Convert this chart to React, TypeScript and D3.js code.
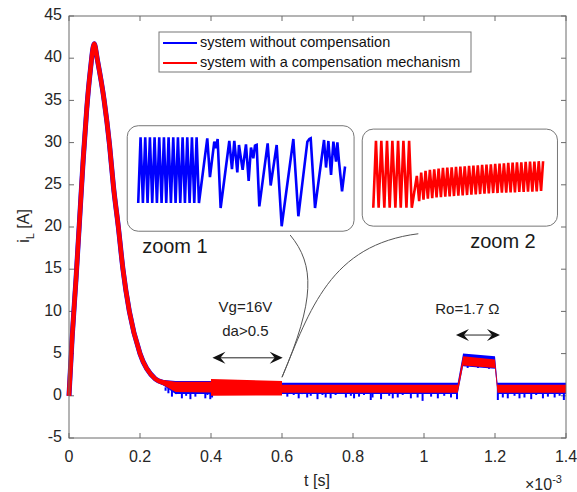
import React from 'react';
import * as d3 from 'd3';

const W = 577;
const H = 492;
const margin = { top: 16, right: 11, bottom: 54, left: 69 };

const xTicks = [0, 0.2, 0.4, 0.6, 0.8, 1, 1.2, 1.4];
const yTicks = [-5, 0, 5, 10, 15, 20, 25, 30, 35, 40, 45];

// start-up transient, shared by both systems (t in ms, i in A)
const transientT = [0, 0.009, 0.02, 0.03, 0.04, 0.05, 0.06, 0.071, 0.08, 0.099, 0.114, 0.125, 0.139, 0.152, 0.17, 0.2, 0.243, 0.27, 0.3];
const transientI = [0, 7, 14, 21, 28, 34, 38.5, 41.7, 39.8, 35, 29.8, 24.9, 20, 15, 10, 5, 2, 1.5, 1.1];

// ripple envelope after the transient
const bandT = [0.26, 0.3, 0.4, 0.4, 0.6, 0.6, 1.095, 1.11, 1.2, 1.207, 1.4];
const redHigh = [1.9, 1.65, 1.65, 2.0, 1.75, 1.3, 1.3, 4.7, 4.3, 1.3, 1.3];
const redLow = [1.4, 0.45, 0.4, 0.0, 0.05, 0.35, 0.35, 3.6, 3.3, 0.35, 0.35];
const blueHigh = [1.9, 1.75, 1.75, 1.75, 1.75, 1.55, 1.55, 5.0, 4.7, 1.55, 1.55];
const blueLow = [1.4, 0.2, 0.2, 0.2, 0.2, 0.2, 0.2, 3.5, 3.2, 0.2, 0.2];

// downward spikes of the uncompensated current
const spikeT = [0.272, 0.28, 0.29, 0.302, 0.318, 0.33, 0.342, 0.356, 0.384, 0.39, 0.398, 0.403,
  0.615, 0.633, 0.647, 0.657, 0.671, 0.681, 0.7, 0.714, 0.723, 0.737, 0.751, 0.78, 0.794, 0.803,
  0.817, 0.831, 0.85, 0.855, 0.879, 0.902, 0.912, 0.926, 0.94, 0.963, 0.982, 0.996, 1.02, 1.039, 1.057, 1.076, 1.093,
  1.208, 1.222, 1.236, 1.255, 1.269, 1.283, 1.302, 1.316, 1.335, 1.349, 1.368, 1.382, 1.394];
const spikeI = [0.6, 0.3, -0.1, 0.2, -0.3, 0.0, -0.4, -0.1, -0.3, 0.1, -0.4, -0.2,
  -0.1, 0.1, -0.3, 0.2, -0.2, 0.0, -0.4, 0.1, -0.2, -0.3, 0.1, -0.2, 0.0, -0.3,
  -0.1, 0.1, -0.5, -0.2, -0.4, 0.0, -0.3, -0.2, 0.1, -0.3, -0.2, -0.6, -0.1, -0.3, 0.0, -0.2, -0.4,
  -0.5, -0.2, -0.3, 0.0, -0.3, -0.2, -0.4, 0.1, -0.3, -0.1, -0.2, 0.0, -0.5];
const stepSpikeT = [1.123, 1.138, 1.152, 1.169, 1.183, 1.197];
const stepSpikeI = [3.3, 3.5, 3.3, 3.4, 3.2, 3.4];

// zoom 1 inset (sample index, relative level)
const zoom1X = [55, 62, 69, 76, 83, 90, 97, 104, 111, 118, 125, 132, 139, 146, 153, 160, 167, 174, 181, 188, 195, 202, 209, 216, 223, 230, 237,
  262, 270, 283, 288, 293, 302, 328, 336, 343, 352, 357, 368, 378, 386, 393, 400, 405, 410, 418, 443, 452, 470, 485,
  520, 535, 562, 568, 572, 585, 612, 618, 625, 633, 640, 648, 652, 657, 666, 675];
const zoom1Y = [85, 283, 85, 283, 85, 283, 85, 283, 85, 283, 85, 283, 85, 283, 85, 283, 85, 283, 85, 283, 85, 283, 85, 283, 85, 283, 85,
  280, 163, 270, 250, 278, 70, 272, 187, 272, 177, 260, 185, 262, 152, 252, 220, 258, 260, 75, 265, 138, 260, 15,
  278, 45, 270, 278, 280, 70, 275, 192, 272, 170, 270, 210, 268, 208, 120, 195];

// zoom 2 inset
const zoom2X = [55, 63, 71, 79, 88, 96, 104, 112, 121, 129, 137, 145, 154, 162, 170,
  185, 192, 198, 205, 211, 218, 224, 231, 237, 244, 250, 257, 263, 270, 276, 283, 289, 296, 302, 309,
  315, 322, 328, 335, 341, 348, 354, 361, 367, 374, 380, 387, 393, 400, 406, 413, 419, 426, 432, 439,
  445, 452, 458, 465, 471, 478, 484, 491, 497, 504, 510, 517, 523, 530, 536, 543, 549, 556, 562];
const zoom2Y = [55, 255, 55, 255, 55, 255, 55, 255, 55, 255, 55, 255, 55, 255, 55,
  150, 75, 160, 79, 165, 82, 168, 84, 170, 86, 172, 87, 174, 88, 175, 89, 176, 90, 177, 91,
  178, 92, 179, 93, 180, 94, 181, 95, 182, 96, 183, 97, 184, 98, 185, 99, 186, 99, 187, 100,
  188, 100, 189, 101, 190, 101, 191, 102, 191, 102, 192, 103, 193, 103, 193, 104, 194, 105, 194];

const BLUE = '#0000ff';
const RED = '#ff0000';
const AX = '#6a6a6a';
const TXT = '#262626';
const FONT = '"Liberation Sans", Arial, Helvetica, sans-serif';

const x = d3.scaleLinear().domain([0, 1.4]).range([margin.left, W - margin.right]);
const y = d3.scaleLinear().domain([-5, 45]).range([H - margin.bottom, margin.top]);

const zip = (a: number[], b: number[]) => a.map((v, k) => [v, b[k]] as [number, number]);

const Arrow = ({ t1, t2, i }: { t1: number; t2: number; i: number }) => {
  const x1 = x(t1), x2 = x(t2), yy = y(i);
  const head = (xa: number, dir: number) =>
    `M${xa},${yy} L${xa + dir * 13},${yy - 6} L${xa + dir * 8},${yy} L${xa + dir * 13},${yy + 6} Z`;
  return (
    <g>
      <line x1={x1 + 6} x2={x2 - 6} y1={yy} y2={yy} stroke="#222" strokeWidth={1} />
      <path d={head(x1, 1)} fill="#111" />
      <path d={head(x2, -1)} fill="#111" />
    </g>
  );
};

const Inset = ({ box, xs, ys, xDom, yDom, color }: any) => {
  const sx = d3.scaleLinear().domain(xDom).range([x(box[0]), x(box[1])]);
  const sy = d3.scaleLinear().domain(yDom).range([y(box[2]), y(box[3])]);
  const line = d3.line<[number, number]>().x(d => sx(d[0])).y(d => sy(d[1]));
  return (
    <g>
      <rect x={x(box[0])} y={y(box[3])} width={x(box[1]) - x(box[0])} height={y(box[2]) - y(box[3])}
        rx={11} fill="white" stroke="#777" strokeWidth={1} />
      <path d={line(zip(xs, ys)) || ''} fill="none" stroke={color} strokeWidth={2.6} strokeLinejoin="miter" />
    </g>
  );
};

export default function App() {
  const transient = d3.line<[number, number]>().x(d => x(d[0])).y(d => y(d[1])).curve(d3.curveMonotoneX);
  const pts = zip(transientT, transientI);
  const band = (hi: number[], lo: number[]) =>
    d3.area<number>().x((_, k) => x(bandT[k])).y0((_, k) => y(lo[k])).y1((_, k) => y(hi[k]))(bandT) || '';

  const conn = (a: number[][]) => {
    const p = a.map(d => [x(d[0]), y(d[1])]);
    return `M${p[0][0]},${p[0][1]} C${p[1][0]},${p[1][1]} ${p[2][0]},${p[2][1]} ${p[3][0]},${p[3][1]}`;
  };

  const x0 = margin.left, x1 = W - margin.right, y0 = margin.top, y1 = H - margin.bottom;

  return (
    <svg width={W} height={H} style={{ position: 'absolute', left: 0, top: 0, background: 'white' }} fontFamily={FONT}>
      <rect width={W} height={H} fill="white" />
      {/* ticks */}
      {xTicks.map(t => (
        <g key={'xt' + t}>
          <line x1={x(t)} x2={x(t)} y1={y1} y2={y1 - 5} stroke={AX} />
          <line x1={x(t)} x2={x(t)} y1={y0} y2={y0 + 5} stroke={AX} />
          <text x={x(t)} y={y1 + 20} textAnchor="middle" dominantBaseline="middle" fontSize={16} fill={TXT}>{t}</text>
        </g>
      ))}
      {yTicks.map(v => (
        <g key={'yt' + v}>
          <line x1={x0} x2={x0 + 5} y1={y(v)} y2={y(v)} stroke={AX} />
          <line x1={x1} x2={x1 - 5} y1={y(v)} y2={y(v)} stroke={AX} />
          <text x={x0 - 7} y={y(v)} textAnchor="end" dominantBaseline="middle" fontSize={16} fill={TXT}>{v}</text>
        </g>
      ))}

      {/* blue: system without compensation */}
      <path d={transient(pts) || ''} fill="none" stroke={BLUE} strokeWidth={5} />
      <path d={band(blueHigh, blueLow)} fill={BLUE} />
      {spikeT.map((t, k) => (
        <line key={'s' + k} x1={x(t)} x2={x(t)} y1={y(1)} y2={y(spikeI[k])} stroke={BLUE} strokeWidth={2} />
      ))}
      {stepSpikeT.map((t, k) => (
        <line key={'ss' + k} x1={x(t)} x2={x(t)} y1={y(4)} y2={y(stepSpikeI[k])} stroke={BLUE} strokeWidth={2} />
      ))}

      {/* red: system with compensation */}
      <path d={transient(pts) || ''} fill="none" stroke={RED} strokeWidth={4.5} />
      <path d={band(redHigh, redLow)} fill={RED} />

      {/* axes box */}
      <rect x={x0} y={y0} width={x1 - x0} height={y1 - y0} fill="none" stroke={AX} strokeWidth={1} />

      {/* insets and connectors */}
      <path d={conn([[0.6, 2.2], [0.693, 11.35], [0.693, 15.5], [0.623, 19.05]])} fill="none" stroke="#555" strokeWidth={1} />
      <path d={conn([[0.6, 2.2], [0.679, 10.2], [0.736, 17.9], [0.984, 19.2]])} fill="none" stroke="#555" strokeWidth={1} />
      <Inset box={[0.164, 0.803, 19.5, 32.0]} xs={zoom1X} ys={zoom1Y} xDom={[22, 702]} yDom={[0, 318]} color={BLUE} />
      <Inset box={[0.826, 1.376, 20.1, 31.6]} xs={zoom2X} ys={zoom2Y} xDom={[22, 605]} yDom={[0, 290]} color={RED} />
      <text x={x(0.206)} y={y(17.6)} dominantBaseline="middle" fontSize={20} fill="#1a1a1a">zoom 1</text>
      <text x={x(1.13)} y={y(18.1)} dominantBaseline="middle" fontSize={20} fill="#1a1a1a">zoom 2</text>

      {/* annotations */}
      <text x={x(0.497)} y={y(10.4)} textAnchor="middle" dominantBaseline="middle" fontSize={15} fill="#222">Vg=16V</text>
      <text x={x(0.497)} y={y(7.6)} textAnchor="middle" dominantBaseline="middle" fontSize={15} fill="#222">da&gt;0.5</text>
      <Arrow t1={0.404} t2={0.602} i={4.5} />
      <text x={x(1.122)} y={y(10.2)} textAnchor="middle" dominantBaseline="middle" fontSize={15} fill="#222">Ro=1.7 Ω</text>
      <Arrow t1={1.09} t2={1.214} i={7.2} />

      {/* legend */}
      <rect x={159} y={32} width={312} height={40} fill="white" stroke="#777" strokeWidth={1} />
      <line x1={163} x2={197} y1={43} y2={43} stroke={BLUE} strokeWidth={2} />
      <text x={200} y={43} dominantBaseline="middle" fontSize={14.5} fill="#111">system without compensation</text>
      <line x1={163} x2={197} y1={63} y2={63} stroke={RED} strokeWidth={2} />
      <text x={200} y={63} dominantBaseline="middle" fontSize={14.5} fill="#111">system with a compensation mechanism</text>

      {/* axis labels */}
      <text x={317} y={482} textAnchor="middle" dominantBaseline="middle" fontSize={16} fill={TXT}>t [s]</text>
      <text x={525} y={486} dominantBaseline="middle" fontSize={16} fill={TXT}>×10<tspan dy={-6} fontSize={11}>-3</tspan></text>
      <text transform="translate(29,226) rotate(-90)" textAnchor="middle" fontSize={16} fill={TXT}>
        i<tspan dy={5} fontSize={11}>L</tspan><tspan dy={-5}> [A]</tspan>
      </text>
    </svg>
  );
}
